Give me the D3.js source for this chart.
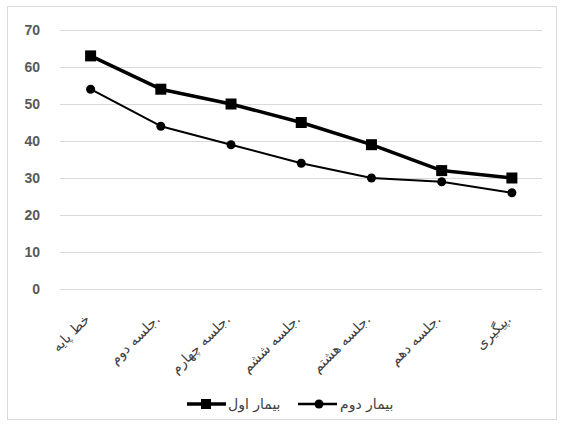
<!DOCTYPE html>
<html>
<head>
<meta charset="utf-8">
<script src="https://cdn.jsdelivr.net/npm/d3@7"></script>
<style>
  body { margin: 0; background: #fff; }
  svg { display: block; }
  .grid line { stroke: #d9d9d9; stroke-width: 1; }
  .y-axis text { fill: #595959; font-family: "Liberation Sans", Arial, sans-serif; font-size: 14px; font-weight: bold; }
  .x-axis text { fill: #404040; font-family: "DejaVu Sans", sans-serif; font-size: 14px; }
  .legend text { fill: #404040; font-family: "DejaVu Sans", sans-serif; font-size: 14px; }
</style>
</head>
<body>
<div id="chart"></div>
<script>
// chart data
const sessions = ['خط پایه', 'جلسه دوم.', 'جلسه چهارم.', 'جلسه ششم.', 'جلسه هشتم.', 'جلسه دهم.', 'پیگیری.'];
const patient1 = [63, 54, 50, 45, 39, 32, 30];
const patient2 = [54, 44, 39, 34, 30, 29, 26];
const seriesNames = ['بیمار اول', 'بیمار دوم'];
const yTicks = [0, 10, 20, 30, 40, 50, 60, 70];

const width = 563, height = 425;
const svg = d3.select('#chart').append('svg')
  .attr('width', width)
  .attr('height', height);

// outer chart border
svg.append('rect')
  .attr('x', 7.5).attr('y', 6.5)
  .attr('width', 549).attr('height', 413)
  .attr('fill', 'none')
  .attr('stroke', '#d9d9d9');

const x = d3.scaleBand().domain(sessions).range([55.5, 547]);
const y = d3.scaleLinear().domain([0, 70]).range([289, 30]);

// gridlines
svg.append('g')
  .attr('class', 'grid')
  .selectAll('line')
  .data(yTicks)
  .enter()
  .append('line')
  .attr('x1', 60).attr('x2', 542)
  .attr('y1', d => Math.round(y(d)) + 0.5)
  .attr('y2', d => Math.round(y(d)) + 0.5);

// y axis labels
const yAxis = svg.append('g')
  .attr('class', 'y-axis')
  .attr('transform', 'translate(40,0)')
  .call(d3.axisLeft(y).tickValues(yTicks).tickSize(0).tickPadding(0));
yAxis.select('.domain').remove();

// x axis labels, rotated
const xAxis = svg.append('g')
  .attr('class', 'x-axis')
  .attr('transform', 'translate(0,289)')
  .call(d3.axisBottom(x).tickSize(0));
xAxis.select('.domain').remove();
xAxis.selectAll('text')
  .attr('text-anchor', 'end')
  .attr('dy', 0)
  .attr('y', 0)
  .attr('transform', 'translate(0,31) rotate(-45)');

const cx = d => x(d) + x.bandwidth() / 2;

const line = d3.line()
  .x((d, i) => cx(sessions[i]))
  .y(d => y(d));

// series 1: thick line with squares
svg.append('path')
  .datum(patient1)
  .attr('fill', 'none')
  .attr('stroke', '#000')
  .attr('stroke-width', 3.5)
  .attr('stroke-linejoin', 'round')
  .attr('d', line);

svg.selectAll('.sq')
  .data(patient1)
  .enter()
  .append('rect')
  .attr('class', 'sq')
  .attr('x', (d, i) => cx(sessions[i]) - 5.5)
  .attr('y', d => y(d) - 5.5)
  .attr('width', 11).attr('height', 11)
  .attr('fill', '#000');

// series 2: thinner line with circles
svg.append('path')
  .datum(patient2)
  .attr('fill', 'none')
  .attr('stroke', '#000')
  .attr('stroke-width', 2)
  .attr('stroke-linejoin', 'round')
  .attr('d', line);

svg.selectAll('.dot')
  .data(patient2)
  .enter()
  .append('circle')
  .attr('class', 'dot')
  .attr('cx', (d, i) => cx(sessions[i]))
  .attr('cy', d => y(d))
  .attr('r', 4.5)
  .attr('fill', '#000');

// legend
const legend = svg.append('g').attr('class', 'legend');
const lg1 = legend.append('g').attr('transform', 'translate(187,404)');
lg1.append('line').attr('x1', 0).attr('x2', 39).attr('stroke', '#000').attr('stroke-width', 3.5);
lg1.append('rect').attr('x', 14).attr('y', -5).attr('width', 10).attr('height', 10).attr('fill', '#000');
lg1.append('text').attr('x', 41).attr('y', 5).text(seriesNames[0]);

const lg2 = legend.append('g').attr('transform', 'translate(298,404)');
lg2.append('line').attr('x1', 0).attr('x2', 39).attr('stroke', '#000').attr('stroke-width', 2.5);
lg2.append('circle').attr('cx', 21).attr('cy', 0).attr('r', 4.5).attr('fill', '#000');
lg2.append('text').attr('x', 42).attr('y', 5).text(seriesNames[1]);
</script>
</body>
</html>
